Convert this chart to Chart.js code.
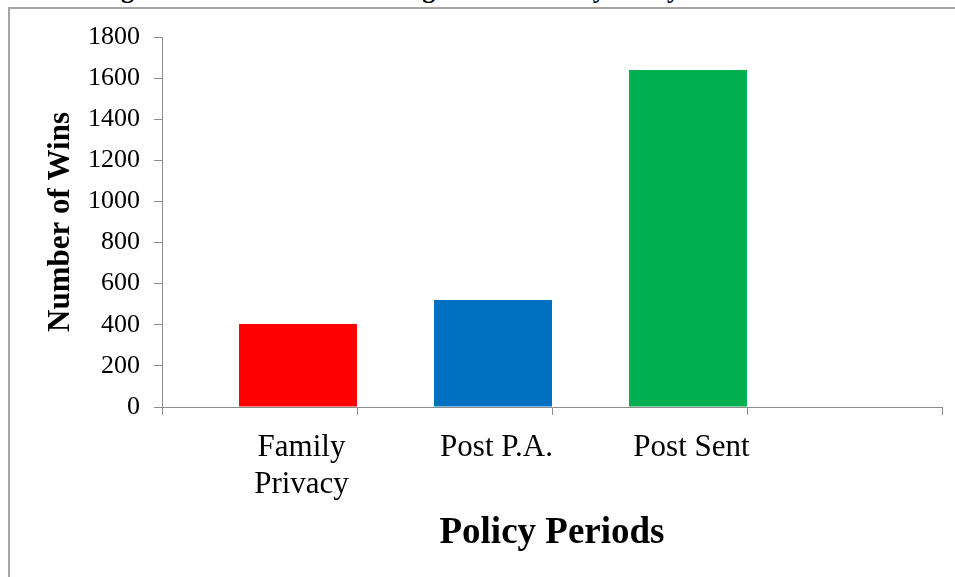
<!DOCTYPE html>
<html>
<head>
<meta charset="utf-8">
<script src="https://cdn.jsdelivr.net/npm/chart.js@4/dist/chart.umd.min.js"></script>
<style>
  body { margin: 0; background: #fff; overflow: hidden; }
  #wrap { position: relative; width: 955px; height: 577px; overflow: hidden; }
  #frame { position: absolute; left: 8px; top: 7px; width: 1000px; height: 600px;
           border-top: 2px solid #a6a6a6; border-left: 2px solid #a6a6a6; }
  #title { position: absolute; left: 98px; top: -25px; white-space: nowrap;
           font: bold 26px "Liberation Serif", serif; color: #000; }
  canvas { position: absolute; left: 0; top: 0; }
</style>
</head>
<body>
<div id="wrap">
  <div id="title">Figure 1: The Number of Litigants Success by Policy Periods.</div>
  <div id="frame"></div>
  <canvas id="winsChart" width="955" height="577"></canvas>
</div>
<script>
// Data
var periods = [['Family', 'Privacy'], 'Post P.A.', 'Post Sent', ''];
var wins = [404, 520, 1640, null];
var blankSeries = [null, null, null, null]; // empty first series, pushes bars to the right of each slot
var barColors = ['#ff0000', '#0070c0', '#00b050', '#ffffff'];
var yTicks = [0, 200, 400, 600, 800, 1000, 1200, 1400, 1600, 1800];

var axisGrey = '#8c8c8c';
var serif = '"Liberation Serif", "Times New Roman", serif';

document.addEventListener('DOMContentLoaded', function() {
    var ctx = document.getElementById('winsChart');
    new Chart(ctx, {
        type: 'bar',
        data: {
            labels: periods,
            datasets: [{
                label: '',
                data: blankSeries,
                barPercentage: 1.532,
                categoryPercentage: 0.79
            }, {
                label: 'Number of Wins',
                data: wins,
                backgroundColor: barColors,
                borderWidth: 0,
                barPercentage: 1.532,
                categoryPercentage: 0.79
            }]
        },
        options: {
            responsive: false,
            animation: false,
            layout: {
                padding: { top: 37, right: 13, left: 0, bottom: 0 }
            },
            plugins: {
                legend: { display: false },
                tooltip: { enabled: false }
            },
            scales: {
                y: {
                    min: 0,
                    max: 1800,
                    afterFit: function(scale) { scale.width = 162; },
                    afterBuildTicks: function(scale) {
                        scale.ticks = yTicks.map(function(v) { return { value: v }; });
                    },
                    ticks: {
                        color: '#000',
                        padding: 14,
                        callback: function(v) { return String(v); },
                        font: { family: serif, size: 26 }
                    },
                    grid: {
                        drawOnChartArea: false,
                        drawTicks: true,
                        tickLength: 8,
                        color: axisGrey
                    },
                    border: { color: axisGrey, width: 1 },
                    title: {
                        display: true,
                        text: 'Number of Wins',
                        color: '#000',
                        padding: { top: 42 },
                        font: { family: serif, size: 31, weight: 'bold' }
                    }
                },
                x: {
                    afterFit: function(scale) { scale.height = 170; },
                    ticks: {
                        color: '#000',
                        padding: 15,
                        labelOffset: 42,
                        maxRotation: 0,
                        autoSkip: false,
                        font: { family: serif, size: 31, lineHeight: 1.17 }
                    },
                    grid: {
                        offset: true,
                        drawOnChartArea: false,
                        drawTicks: true,
                        tickLength: 8,
                        color: axisGrey
                    },
                    border: { color: axisGrey, width: 1 },
                    title: {
                        display: true,
                        text: 'Policy Periods',
                        color: '#000',
                        padding: { bottom: 21 },
                        font: { family: serif, size: 37, weight: 'bold' }
                    }
                }
            }
        }
    });
});
</script>
</body>
</html>
